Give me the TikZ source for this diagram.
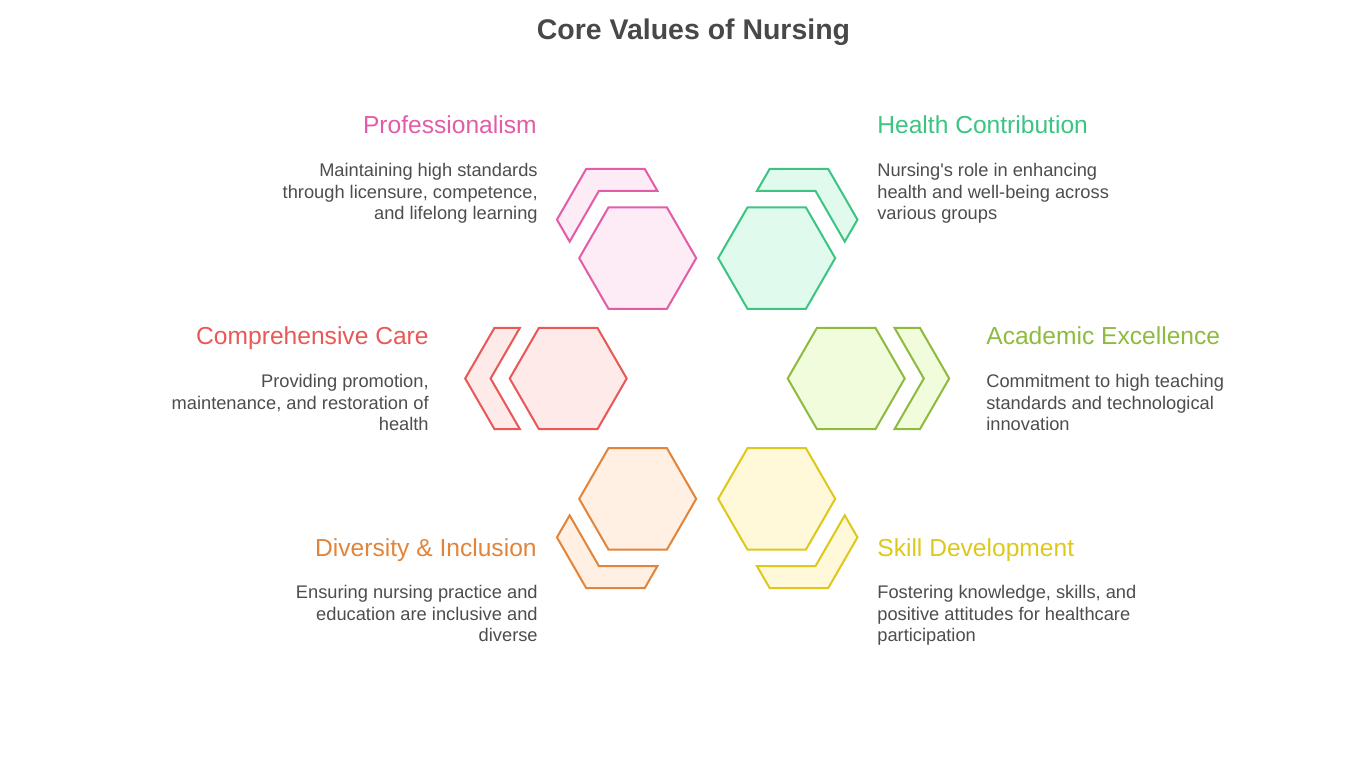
\documentclass[tikz,border=0pt]{standalone}
\usepackage{fontspec}
\setmainfont{Liberation Sans}
\usepackage{tikz}
\usetikzlibrary{positioning}

\definecolor{pinkline}{HTML}{E25CA8}
\definecolor{pinkfill}{HTML}{FDEBF6}
\definecolor{greenline}{HTML}{3DC482}
\definecolor{greenfill}{HTML}{E0FBEE}
\definecolor{redline}{HTML}{E85856}
\definecolor{redfill}{HTML}{FFEAEA}
\definecolor{limeline}{HTML}{8EBB3D}
\definecolor{limefill}{HTML}{F1FCDD}
\definecolor{orangeline}{HTML}{E2843A}
\definecolor{orangefill}{HTML}{FFF0E3}
\definecolor{yellowline}{HTML}{DEC81C}
\definecolor{yellowfill}{HTML}{FFF9DA}
\definecolor{bodygray}{HTML}{4D4D4D}
\definecolor{titlegray}{HTML}{484848}

\begin{document}
\begin{tikzpicture}[x=0.02cm, y=0.02cm,
    hexline/.style={line width=1.15pt, line join=miter},
    head/.style={inner sep=0, font=\fontsize{14}{16}\selectfont},
    body/.style={inner sep=0, text=bodygray, font=\fontsize{10.4}{12.35}\selectfont}]
  \useasboundingbox (0,0) rectangle (1366,768);
  \coordinate (Ring) at (707.2,389.5);

  % hexagons with their outer chevrons
  \foreach \ang/\col in {0/lime,60/green,120/pink,180/red,240/orange,300/yellow}{
    \begin{scope}[shift={(Ring)}, rotate=\ang]
      \draw[hexline, draw=\col line, fill=\col fill] (197.5,0) -- ++(120:58.5) -- ++(180:58.5)
        -- ++(240:58.5) -- ++(300:58.5) -- ++(0:58.5) -- cycle;
      \draw[hexline, draw=\col line, fill=\col fill] (242,0) -- (212.7,50.7) -- (187.3,50.7)
        -- (216.6,0) -- (187.3,-50.7) -- (212.7,-50.7) -- cycle;
    \end{scope}
  }

  \node[inner sep=0, text=titlegray, font=\bfseries\fontsize{16.2}{19}\selectfont, anchor=base] (Title) at (693.5,728.5) {Core Values of Nursing};

  % left column (base anchor of a text block = its last line)
  \node[head, text=pinkline, anchor=base east] (ProfHead) at (537,634) {Professionalism};
  \node[body, align=right, anchor=base east] (ProfText) at ([xshift=0.02cm, yshift=-1.72cm]ProfHead.base east)
    {Maintaining high standards\\through licensure, competence,\\and lifelong learning};

  \node[head, text=redline, anchor=base east] (CareHead) at (429,423) {Comprehensive Care};
  \node[body, align=right, anchor=base east] (CareText) at ([yshift=-1.72cm]CareHead.base east)
    {Providing promotion,\\maintenance, and restoration of\\health};

  \node[head, text=orangeline, anchor=base east] (DivHead) at (537,212) {Diversity \& Inclusion};
  \node[body, align=right, anchor=base east] (DivText) at ([xshift=0.02cm, yshift=-1.72cm]DivHead.base east)
    {Ensuring nursing practice and\\education are inclusive and\\diverse};

  % right column
  \node[head, text=greenline, anchor=base west] (HealthHead) at (877,634) {Health Contribution};
  \node[body, align=left, anchor=base west] (HealthText) at ([yshift=-1.72cm]HealthHead.base west)
    {Nursing\textquotesingle s role in enhancing\\health and well-being across\\various groups};

  \node[head, text=limeline, anchor=base west] (AcadHead) at (986,423) {Academic Excellence};
  \node[body, align=left, anchor=base west] (AcadText) at ([yshift=-1.72cm]AcadHead.base west)
    {Commitment to high teaching\\standards and technological\\innovation};

  \node[head, text=yellowline, anchor=base west] (SkillHead) at (877,212) {Skill Development};
  \node[body, align=left, anchor=base west] (SkillText) at ([yshift=-1.72cm]SkillHead.base west)
    {Fostering knowledge, skills, and\\positive attitudes for healthcare\\participation};
\end{tikzpicture}
\end{document}
